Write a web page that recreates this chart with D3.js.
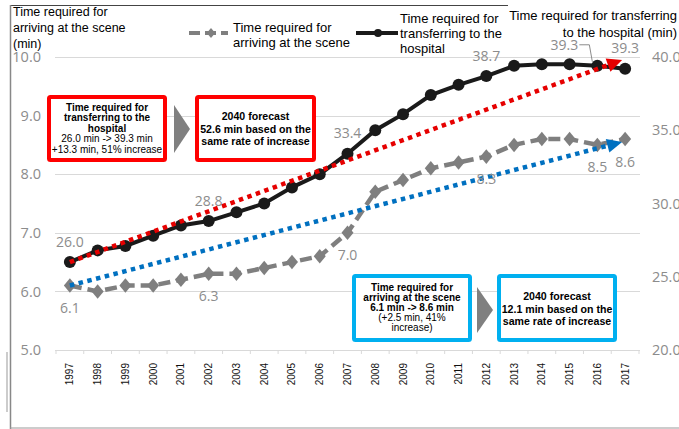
<!DOCTYPE html>
<html><head><meta charset="utf-8">
<script src="https://cdn.jsdelivr.net/npm/d3@7"></script>
<style>
html,body{margin:0;padding:0;background:#fff;overflow:hidden}
svg{display:block}
</style></head>
<body>
<svg id="c" width="679" height="429"></svg>
<script>
// ---- data ----
const years = ["1997","1998","1999","2000","2001","2002","2003","2004","2005","2006","2007","2008","2009","2010","2011","2012","2013","2014","2015","2016","2017"];
const sceneMinutes = [6.1,6.0,6.1,6.1,6.2,6.3,6.3,6.4,6.5,6.6,7.0,7.7,7.9,8.1,8.2,8.3,8.5,8.6,8.6,8.5,8.6];
const hospitalMinutes = [26.0,26.8,27.1,27.8,28.5,28.8,29.4,30.0,31.1,32.0,33.4,35.0,36.1,37.4,38.1,38.7,39.4,39.5,39.5,39.4,39.2];
const sceneLabels = {"1997":"6.1","2002":"6.3","2007":"7.0","2012":"8.3","2016":"8.5","2017":"8.6"};
const hospitalLabels = {"1997":"26.0","2002":"28.8","2007":"33.4","2012":"38.7","2017":"39.3"};
const hospitalLeaderLabel = {year:"2016", text:"39.3"};
const leftTicks = [5,6,7,8,9,10];
const rightTicks = [20,25,30,35,40];
const hospitalTrend = [{year:"1997", v:26.0},{year:"2017", v:39.8}];
const sceneTrend = [{year:"1997", v:6.1},{year:"2017", v:8.55}];
const leftTitle = ["Time required for","arriving at the scene","(min)"];
const rightTitle = ["Time required for transferring","to the hospital (min)"];
const legendScene = ["Time required for","arriving at the scene"];
const legendHospital = ["Time required for","transferring to the","hospital"];
const box1 = [{t:"Time required for",b:true},{t:"transferring to the",b:true},{t:"hospital",b:true},{t:"26.0 min -> 39.3 min",b:false},{t:"+13.3 min, 51% increase",b:false}];
const box2 = [{t:"2040 forecast",b:true},{t:"52.6 min based on the",b:true},{t:"same rate of increase",b:true}];
const box3 = [{t:"Time required for",b:true},{t:"arriving at the scene",b:true},{t:"6.1 min -> 8.6 min",b:true},{t:"(+2.5 min, 41%",b:false},{t:"increase)",b:false}];
const box4 = [{t:"2040 forecast",b:true},{t:"12.1 min based on the",b:true},{t:"same rate of increase",b:true}];

// ---- setup ----
const svg = d3.select("#c");
const FONT = "'Liberation Sans', Arial, sans-serif";
const NUMFONT = "'Open Sans', 'DejaVu Sans', sans-serif";
const x = d3.scaleBand().domain(years).range([56, 639]);
const cx = y => x(y) + x.bandwidth()/2;
const yL = d3.scaleLinear().domain([5,10]).range([350,57]);
const yR = d3.scaleLinear().domain([20,40]).range([350,57]);

// frame
svg.append("line").attr("x1",10).attr("x2",508).attr("y1",5.5).attr("y2",5.5).attr("stroke","#444").attr("stroke-width",1.2);
svg.append("line").attr("x1",10.5).attr("x2",10.5).attr("y1",5).attr("y2",429).attr("stroke","#888").attr("stroke-width",1.5);
svg.append("line").attr("x1",10).attr("x2",679).attr("y1",428).attr("y2",428).attr("stroke","#999").attr("stroke-width",1);
svg.append("line").attr("x1",7).attr("x2",7).attr("y1",352).attr("y2",412).attr("stroke","#999").attr("stroke-width",1);

// gridlines
svg.append("g").selectAll("line").data(leftTicks.slice(1)).join("line")
  .attr("x1",55).attr("x2",640).attr("y1",d=>Math.round(yL(d))+0.5).attr("y2",d=>Math.round(yL(d))+0.5)
  .attr("stroke","#d9d9d9").attr("stroke-width",1);

// x axis
const xa = svg.append("g").attr("transform",`translate(0,${yL(5)})`)
  .call(d3.axisBottom(x).tickSize(0).tickSizeOuter(0));
xa.select(".domain").attr("stroke","#d9d9d9").attr("d","M55,0.5H640");
xa.selectAll(".tick text").attr("transform","rotate(-90)").attr("text-anchor","end")
  .attr("x",-13).attr("y",0).attr("dy","0.35em").attr("font-family",FONT).attr("font-size",10).attr("fill","#111");
// boundary ticks
svg.append("g").selectAll("line").data(years.concat(["end"])).join("line")
  .attr("x1",(d,i)=> i<years.length ? x(d) : x(years[years.length-1])+x.bandwidth())
  .attr("x2",(d,i)=> i<years.length ? x(d) : x(years[years.length-1])+x.bandwidth())
  .attr("y1",yL(5)).attr("y2",yL(5)+4).attr("stroke","#d9d9d9");

// left axis
const la = svg.append("g").attr("transform","translate(41,0)").call(d3.axisLeft(yL).tickValues(leftTicks).tickSize(0).tickPadding(0).tickFormat(d3.format(".1f")));
la.select(".domain").remove();
la.selectAll("text").attr("font-family",NUMFONT).attr("font-size",14.5).attr("fill","#8c8c8c");
// right axis
const ra = svg.append("g").attr("transform","translate(652,0)").call(d3.axisRight(yR).tickValues(rightTicks).tickSize(0).tickPadding(0).tickFormat(d3.format(".1f")));
ra.select(".domain").remove();
ra.selectAll("text").attr("font-family",NUMFONT).attr("font-size",14.5).attr("fill","#8c8c8c");

// titles
svg.append("text").attr("font-family",FONT).attr("font-size",12.5).attr("fill","#000")
  .selectAll("tspan").data(leftTitle).join("tspan").attr("x",13).attr("y",(d,i)=>16+i*16).text(d=>d);
svg.append("text").attr("font-family",FONT).attr("font-size",13).attr("fill","#000").attr("text-anchor","end")
  .selectAll("tspan").data(rightTitle).join("tspan").attr("x",677).attr("y",(d,i)=>20+i*16.5).text(d=>d);

// legend
const lg = svg.append("g");
lg.append("line").attr("x1",189).attr("x2",228).attr("y1",33).attr("y2",33).attr("stroke","#7f7f7f").attr("stroke-width",4).attr("stroke-dasharray","11,5");
lg.append("path").attr("d",d3.symbol(d3.symbolDiamond,60)()).attr("transform","translate(211,33) scale(1,0.7)").attr("fill","#7f7f7f");
lg.append("text").attr("font-family",FONT).attr("font-size",13).selectAll("tspan").data(legendScene).join("tspan")
  .attr("x",233).attr("y",(d,i)=>32+i*15).text(d=>d);
lg.append("line").attr("x1",356).attr("x2",398).attr("y1",33).attr("y2",33).attr("stroke","#1a1a1a").attr("stroke-width",4);
lg.append("circle").attr("cx",378).attr("cy",33).attr("r",4).attr("fill","#1a1a1a");
lg.append("text").attr("font-family",FONT).attr("font-size",13).selectAll("tspan").data(legendHospital).join("tspan")
  .attr("x",400).attr("y",(d,i)=>23+i*15).text(d=>d);

// series: scene (left axis)
const sceneData = years.map((y,i)=>({year:y, v:sceneMinutes[i]}));
const hospData = years.map((y,i)=>({year:y, v:hospitalMinutes[i]}));
svg.append("path").datum(sceneData).attr("fill","none").attr("stroke","#7f7f7f").attr("stroke-width",4.5)
  .attr("stroke-dasharray","12,6")
  .attr("d",d3.line().x(d=>cx(d.year)).y(d=>yL(d.v)));
svg.append("g").selectAll("path").data(sceneData).join("path")
  .attr("d",d3.symbol(d3.symbolDiamond,95)())
  .attr("transform",d=>`translate(${cx(d.year)},${yL(d.v)}) scale(1.15,0.8)`).attr("fill","#7f7f7f");

// series: hospital (right axis)
svg.append("path").datum(hospData).attr("fill","none").attr("stroke","#1a1a1a").attr("stroke-width",4)
  .attr("d",d3.line().x(d=>cx(d.year)).y(d=>yR(d.v)));
svg.append("g").selectAll("circle").data(hospData).join("circle")
  .attr("cx",d=>cx(d.year)).attr("cy",d=>yR(d.v)).attr("r",6).attr("fill","#1a1a1a");

// trend arrows
function trend(pts, yScale, color, headLen, headW, endShift){
  const x0 = cx(pts[0].year), y0 = yScale(pts[0].v);
  const x1 = cx(pts[1].year) + endShift, y1 = yScale(pts[1].v);
  const ang = Math.atan2(y1-y0, x1-x0);
  const bx = x1 - headLen*Math.cos(ang), by = y1 - headLen*Math.sin(ang);
  svg.append("line").attr("x1",x0).attr("y1",y0).attr("x2",bx).attr("y2",by)
    .attr("stroke",color).attr("stroke-width",4.5).attr("stroke-dasharray","4.5,4.5");
  const px = -Math.sin(ang)*headW/2, py = Math.cos(ang)*headW/2;
  svg.append("path").attr("d",`M${x1},${y1}L${bx+px},${by+py}L${bx-px},${by-py}Z`).attr("fill",color);
}
trend(hospitalTrend, yR, "#e60000", 15, 14, -3);
trend(sceneTrend, yL, "#0070c0", 15, 14, -3);

// data labels
const lblStyle = s => s.attr("font-family",NUMFONT).attr("font-size",14).attr("fill","#8c8c8c").attr("text-anchor","middle").attr("dominant-baseline","central");
svg.append("g").selectAll("text").data(hospData.filter(d=>hospitalLabels[d.year])).join("text")
  .attr("x",d=>cx(d.year)).attr("y",d=>yR(d.v)-21).text(d=>hospitalLabels[d.year]).call(lblStyle);
svg.append("g").selectAll("text").data(sceneData.filter(d=>sceneLabels[d.year])).join("text")
  .attr("x",d=>cx(d.year)).attr("y",d=>yL(d.v)+22).text(d=>sceneLabels[d.year]).call(lblStyle);
// leader label
{
  const d = hospData[years.indexOf(hospitalLeaderLabel.year)];
  const px = cx(d.year), py = yR(d.v);
  svg.append("text").attr("x",px-33).attr("y",py-21).text(hospitalLeaderLabel.text).call(lblStyle);
  svg.append("path").attr("d",`M${px-18},${py-21}H${px-8}L${px-5},${py-4}`).attr("fill","none").attr("stroke","#8c8c8c").attr("stroke-width",1);
}

// annotation boxes
function box(x0,y0,w,h,color,lines,firstY,lh,fs){
  svg.append("rect").attr("x",x0).attr("y",y0).attr("width",w).attr("height",h).attr("rx",1.5)
    .attr("fill","#fff").attr("stroke",color).attr("stroke-width",4);
  svg.append("g").selectAll("text").data(lines).join("text")
    .attr("x",x0+w/2).attr("y",(d,i)=>firstY+i*lh).attr("text-anchor","middle").attr("dominant-baseline","central")
    .attr("font-family",FONT).attr("font-size",fs).attr("font-weight",d=>d.b?"bold":"normal").attr("fill","#000")
    .text(d=>d.t);
}
function chevron(x0,yTop,w,h){
  svg.append("path").attr("d",`M${x0},${yTop}L${x0+w},${yTop+h/2}L${x0},${yTop+h}Z`).attr("fill","#808080");
}
box(49,97,116,63,"#ff0000",box1,107.5,10.4,10);
chevron(174,105,16,48);
box(197,97,117,63,"#ff0000",box2,116,12.5,10.6);
box(354,276,116,64,"#00b0f0",box3,287,10.2,10);
chevron(477,287,16,46);
box(499,276,116,64,"#00b0f0",box4,296,12.5,10.6);
</script>
</body></html>
